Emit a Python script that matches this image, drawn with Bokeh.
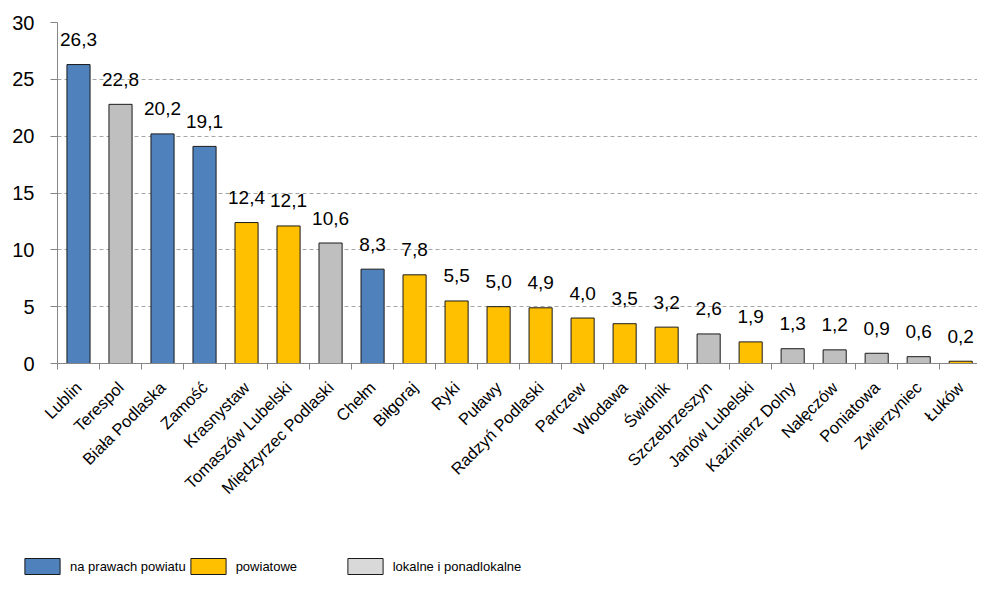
import math
from bokeh.plotting import figure
from bokeh.layouts import column
from bokeh.models import ColumnDataSource, FixedTicker, Legend, LegendItem, LabelSet, Range1d
from bokeh.core.properties import value
from bokeh.embed import file_html
from bokeh.resources import INLINE

cities = ["Lublin", "Terespol", "Biała Podlaska", "Zamość", "Krasnystaw", "Tomaszów Lubelski",
          "Międzyrzec Podlaski", "Chełm", "Biłgoraj", "Ryki", "Puławy", "Radzyń Podlaski",
          "Parczew", "Włodawa", "Świdnik", "Szczebrzeszyn", "Janów Lubelski", "Kazimierz Dolny",
          "Nałęczów", "Poniatowa", "Zwierzyniec", "Łuków"]
values = [26.3, 22.8, 20.2, 19.1, 12.4, 12.1, 10.6, 8.3, 7.8, 5.5, 5.0, 4.9, 4.0, 3.5, 3.2,
          2.6, 1.9, 1.3, 1.2, 0.9, 0.6, 0.2]
kinds = ["np", "lok", "np", "np", "pow", "pow", "lok", "np", "pow", "pow", "pow", "pow",
         "pow", "pow", "pow", "lok", "pow", "lok", "lok", "lok", "lok", "pow"]
kind_order = ["np", "pow", "lok"]
kind_labels = {"np": "na prawach powiatu", "pow": "powiatowe", "lok": "lokalne i ponadlokalne"}
kind_colors = {"np": "#4F81BD", "pow": "#FFC000", "lok": "#BFBFBF"}
legend_colors = {"np": "#4F81BD", "pow": "#FFC000", "lok": "#D9D9D9"}
y_ticks = [0, 5, 10, 15, 20, 25, 30]

n = len(cities)
centers = [i + 0.5 for i in range(n)]
font = "Liberation Sans"

p = figure(width=977, height=546, output_backend="svg", toolbar_location=None,
           x_range=Range1d(0, 21.9), y_range=Range1d(0, 30),
           min_border_left=57, min_border_right=0, min_border_top=22, min_border_bottom=183)
p.outline_line_color = None
p.background_fill_color = "white"
p.xgrid.grid_line_color = None
p.ygrid.grid_line_color = "#A6A6A6"
p.ygrid.grid_line_dash = "4 3"
p.ygrid.grid_line_width = 1

sources = {}
for k in kind_order:
    idx = [i for i in range(n) if kinds[i] == k]
    sources[k] = dict(x=[centers[i] for i in idx], top=[values[i] for i in idx])
    p.vbar(x="x", top="top", width=0.55, bottom=0, source=ColumnDataSource(sources[k]),
           fill_color=kind_colors[k], line_color="#1A1A1A", line_width=1)

lab_src = ColumnDataSource(dict(x=centers, y=values,
                                t=[f"{v:.1f}".replace(".", ",") for v in values]))
p.add_layout(LabelSet(x="x", y="y", text="t", source=lab_src, text_align="center",
                      text_baseline="middle", y_offset=25, text_font=value(font),
                      text_font_size="19px", text_color="#000000"))

# x axis
xa = p.xaxis[0]
xa.ticker = FixedTicker(ticks=centers, minor_ticks=list(range(n + 1)))
xa.major_label_overrides = {c: name for c, name in zip(centers, cities)}
xa.major_label_orientation = math.pi / 4
xa.major_tick_out = 0
xa.major_tick_in = 0
xa.minor_tick_out = 6
xa.minor_tick_in = 0
xa.minor_tick_line_color = "#868686"
xa.axis_line_color = "#868686"
xa.major_label_text_font = font
xa.major_label_text_font_size = "16.5px"
xa.major_label_text_color = "#000000"
xa.major_label_standoff = 15

ya = p.yaxis[0]
ya.ticker = FixedTicker(ticks=y_ticks)
ya.axis_line_color = "#868686"
ya.major_tick_line_color = "#868686"
ya.major_tick_out = 7
ya.major_tick_in = 0
ya.minor_tick_line_color = None
ya.major_label_text_font = font
ya.major_label_text_font_size = "20px"
ya.major_label_text_color = "#000000"
ya.major_label_standoff = 16

# legend strip: the same bars, drawn far outside its visible y range so only the legend shows
lf = figure(width=977, height=30, output_backend="svg", toolbar_location=None,
            x_range=Range1d(0, n), y_range=Range1d(1000, 1001), x_axis_type=None,
            y_axis_type=None, min_border=0)
lf.frame_align = False
lf.outline_line_color = None
lf.grid.grid_line_color = None
items = []
for k in kind_order:
    r = lf.vbar(x="x", top="top", bottom=0, width=0.5, source=ColumnDataSource(sources[k]),
                fill_color=legend_colors[k], line_color="#1A1A1A", line_width=1)
    items.append(LegendItem(label=kind_labels[k], renderers=[r]))
lg = Legend(items=items, location=(20, 0), orientation="horizontal", border_line_color=None,
            background_fill_alpha=0, padding=0, margin=0, spacing=0, glyph_width=44,
            glyph_height=20, label_standoff=6, label_width=107, label_text_font=font,
            label_text_font_size="13px", label_text_color="#000000", label_height=20)
lf.add_layout(lg, "center")

layout = column(p, lf, spacing=0)
open("out.html", "w").write(file_html(layout, INLINE))
